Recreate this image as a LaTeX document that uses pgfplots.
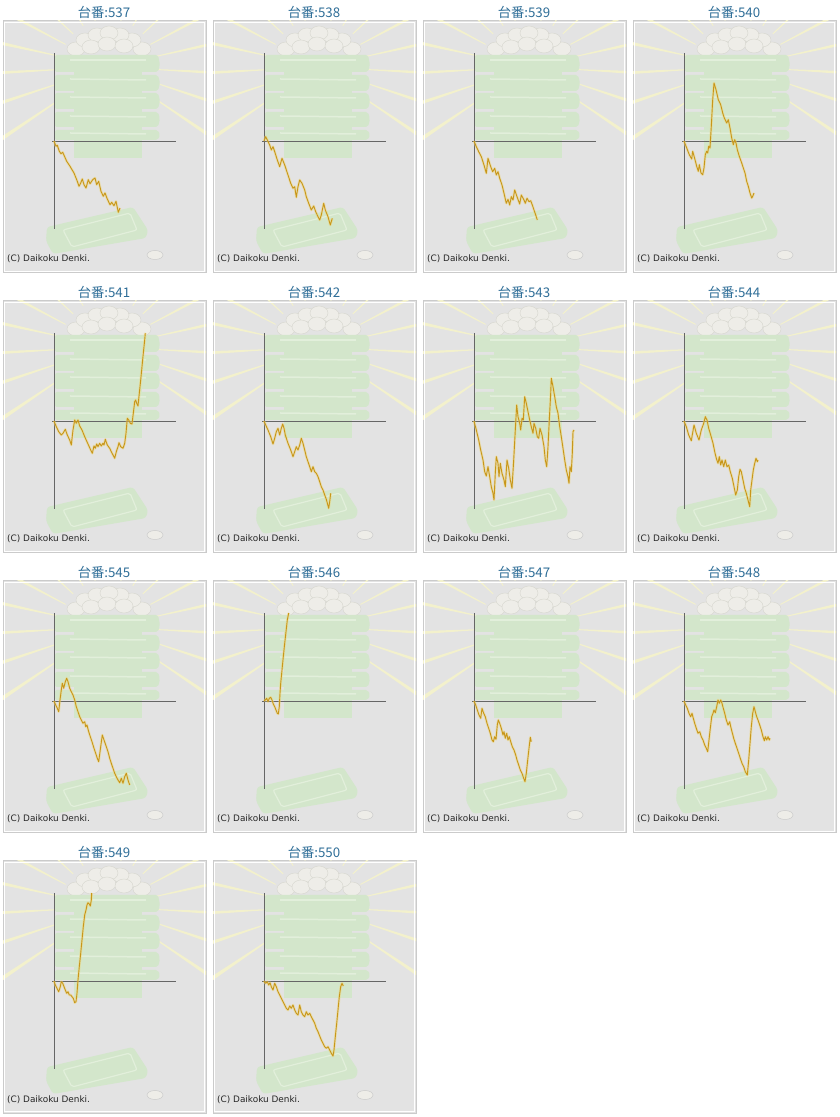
\documentclass[border=0pt]{standalone}
\usepackage{pgfplots}
\pgfplotsset{compat=1.18}
\usepackage{fontspec}
\newfontfamily\cjk{Noto Sans CJK JP}
\newfontfamily\dejavu{DejaVu Sans}
\definecolor{bggray}{HTML}{E3E3E3}
\definecolor{bordergray}{HTML}{CBCBCB}
\definecolor{raycol}{HTML}{F3F1CC}
\definecolor{traygreen}{HTML}{D3E6CB}
\definecolor{traylight}{HTML}{E2EFDB}
\definecolor{ricecol}{HTML}{EEEDE8}
\definecolor{riceedge}{HTML}{D6D6CE}
\definecolor{axcol}{HTML}{666666}
\definecolor{linecol}{HTML}{C8961A}
\definecolor{halocol}{HTML}{F0D670}
\definecolor{titlecol}{HTML}{2F6E98}

\newcommand{\deco}{%
  \begin{scope}
  \clip (rel axis cs:0,0) rectangle (rel axis cs:1,1);
  \begin{scope}[shift={(axis cs:54,74)}]
  \pgfplotsinvokeforeach{-34,-18.5,...,215}{%
    \fill[raycol] (##1-0.5:48pt) -- (##1-0.9:170pt) -- (##1+0.9:170pt) -- (##1+0.5:48pt) -- cycle;
  }
  \end{scope}
  % rice pile
  \filldraw[riceedge,fill=ricecol,line width=0.4pt] (axis cs:22,92) ellipse [x radius=9pt,y radius=7pt];
  \filldraw[riceedge,fill=ricecol,line width=0.4pt] (axis cs:88,92) ellipse [x radius=9pt,y radius=7pt];
  \filldraw[riceedge,fill=ricecol,line width=0.4pt] (axis cs:31,101) ellipse [x radius=9pt,y radius=7pt];
  \filldraw[riceedge,fill=ricecol,line width=0.4pt] (axis cs:78,101) ellipse [x radius=9pt,y radius=7pt];
  \filldraw[riceedge,fill=ricecol,line width=0.4pt] (axis cs:43,106) ellipse [x radius=9pt,y radius=7pt];
  \filldraw[riceedge,fill=ricecol,line width=0.4pt] (axis cs:66,106) ellipse [x radius=9pt,y radius=7pt];
  \filldraw[riceedge,fill=ricecol,line width=0.4pt] (axis cs:55,108) ellipse [x radius=9pt,y radius=7pt];
  \filldraw[riceedge,fill=ricecol,line width=0.4pt] (axis cs:37,94) ellipse [x radius=9pt,y radius=7pt];
  \filldraw[riceedge,fill=ricecol,line width=0.4pt] (axis cs:53,97) ellipse [x radius=9pt,y radius=7pt];
  \filldraw[riceedge,fill=ricecol,line width=0.4pt] (axis cs:70,95) ellipse [x radius=9pt,y radius=7pt];
  % tower body and base
  \fill[traygreen] (axis cs:20,86) rectangle (axis cs:88,-17);
  % trays
  \fill[traygreen,rounded corners=2pt] (axis cs:1,86) -- (axis cs:104,86) -- (axis cs:106,76) -- (axis cs:104,69) -- (axis cs:1,69) -- cycle;
  \fill[traygreen,rounded corners=2pt] (axis cs:1,66) -- (axis cs:104,66) -- (axis cs:106,58) -- (axis cs:104,50) -- (axis cs:1,50) -- cycle;
  \fill[traygreen,rounded corners=2pt] (axis cs:1,48) -- (axis cs:104,48) -- (axis cs:106,40) -- (axis cs:104,32) -- (axis cs:1,32) -- cycle;
  \fill[traygreen,rounded corners=2pt] (axis cs:1,29) -- (axis cs:104,29) -- (axis cs:106,22) -- (axis cs:104,14) -- (axis cs:1,14) -- cycle;
  \fill[traygreen,rounded corners=2pt] (axis cs:1,11) -- (axis cs:104,11) -- (axis cs:106,6) -- (axis cs:104,1) -- (axis cs:1,1) -- cycle;
  \draw[traylight,line width=1.5pt] (axis cs:16,81) -- (axis cs:92,81);
  \draw[traylight,line width=1.5pt] (axis cs:16,62) -- (axis cs:92,61);
  \draw[traylight,line width=1.5pt] (axis cs:16,44) -- (axis cs:92,43);
  \draw[traylight,line width=1.5pt] (axis cs:16,25) -- (axis cs:92,24);
  \draw[traylight,line width=1.5pt] (axis cs:16,8) -- (axis cs:92,7);
  % bottom tray
  \fill[traygreen,rounded corners=3pt] (axis cs:-7,-86) -- (axis cs:79,-66) -- (axis cs:94,-89) -- (axis cs:92,-97) -- (axis cs:-1,-113) -- (axis cs:-8,-100) -- cycle;
  \draw[traylight,line width=1.2pt,rounded corners=2pt] (axis cs:9,-89) -- (axis cs:76,-72) -- (axis cs:83,-89) -- (axis cs:18,-106) -- cycle;
  % coin
  \filldraw[bordergray,fill=ricecol,line width=0.5pt] (axis cs:101,-114) ellipse [x radius=8pt,y radius=4.5pt];
  \end{scope}
  \draw[white,line width=1pt] ([shift={(1.2pt,1.2pt)}]rel axis cs:0,0) rectangle ([shift={(-1.2pt,-1.2pt)}]rel axis cs:1,1);
  \draw[axcol,line width=0.9pt] (axis cs:0,88) -- (axis cs:0,-88);
  \draw[axcol,line width=0.9pt] (axis cs:-2,0) -- (axis cs:122,0);
}
\pgfplotsset{panel/.style={x=1pt,y=1pt,xmin=-51,xmax=152,ymin=-132,ymax=120,
  anchor=south west, xtick=\empty, ytick=\empty,
  axis line style={draw=bordergray,line width=1pt},
  axis background/.style={fill=bggray}},
  gold/.style={color=linecol,line width=0.9pt,mark=none,line join=round,
    preaction={draw=halocol,line width=2.6pt,opacity=0.45}}}

\begin{document}
\begin{tikzpicture}
\path[use as bounding box,fill=white] (0pt,0pt) rectangle (840pt,1117pt);

% titles
\foreach \lab/\cx/\cy in {537/0/0,538/1/0,539/2/0,540/3/0,541/0/1,542/1/1,543/2/1,544/3/1,545/0/2,546/1/2,547/2/2,548/3/2,549/0/3,550/1/3}{
  \node[text=titlecol,font=\cjk\fontsize{13.3}{15}\selectfont,inner sep=0pt] at ({104pt+210pt*\cx},{1105pt-280pt*\cy}) {台番:\lab};
}

% Row 1
\begin{axis}[panel,at={(3pt,844pt)}]
\deco
\addplot[gold] coordinates {(0,0)(2,-5.3)(3.3,-4.3)(5.3,-10.3)(7,-12.7)(8.7,-11.3)(12.7,-20.3)(16,-25.3)(20,-32)(23.3,-40.3)(25,-45.3)(26.7,-42)(28.3,-38)(30,-43.7)(32,-47)(34.3,-38.7)(36,-42.7)(38.7,-38.7)(41,-37)(42.7,-43.7)(44.7,-40.3)(47,-50.3)(49.3,-55.3)(51,-52)(53.3,-58)(56,-63.7)(57.7,-61.3)(60,-64.7)(62,-60.3)(64.3,-71.3)(66,-67)};
\end{axis}
\begin{axis}[panel,at={(213pt,844pt)}]
\deco
\addplot[gold] coordinates {(0,0)(1.7,4.3)(3.3,1)(5.7,-4)(7.3,-9)(9,-5.7)(10.7,-10.7)(13.3,-19)(15.7,-25.7)(18,-17.3)(20.7,-24)(24,-34)(26.7,-42.3)(29,-47.3)(30.7,-45.7)(32.3,-56.3)(34,-45.7)(35.7,-39)(38,-42.3)(40.7,-49)(42.3,-55.7)(44.7,-62.3)(47.3,-69)(49.7,-65)(51.7,-70.7)(54,-75.7)(55.7,-79)(57.3,-74)(59.7,-62.3)(61.3,-69)(64,-75.7)(66.3,-84)(68.3,-77.3)};
\end{axis}
\begin{axis}[panel,at={(423pt,844pt)}]
\deco
\addplot[gold] coordinates {(0,0)(2.3,-5.7)(4.7,-10.7)(7.3,-15.7)(10,-24)(12.3,-32.3)(14,-17.3)(16.7,-25.7)(18.7,-30.7)(20.7,-27.3)(22.3,-34)(24,-30.7)(25.7,-37.3)(28,-44)(30,-52.3)(32.3,-62.3)(34,-58.3)(35.7,-64)(37.3,-55.7)(39,-59)(40.7,-49)(43,-55.7)(45.7,-63)(47.3,-54)(50,-59)(51.3,-62.3)(53,-57.3)(55,-60.7)(56.7,-59.7)(58.3,-64)(60,-69)(61.7,-74)(63.3,-79)};
\end{axis}
\begin{axis}[panel,at={(633pt,844pt)}]
\deco
\addplot[gold] coordinates {(0,0)(2.7,-7)(5.3,-13.7)(7.7,-18)(8.7,-10.3)(11,-18.7)(12.7,-25.3)(14.3,-30.3)(15.3,-23.7)(17,-32)(18.7,-33.7)(20,-27)(21.3,-13.7)(22.7,-10.3)(23.7,-12)(24.7,-5.3)(26,-7)(27.3,14.7)(28.7,41.3)(30,58)(32,51.3)(34.3,41.3)(36.7,36.3)(38.7,28)(40.3,23)(42.7,18)(44.3,21.3)(46,13)(47.7,3)(49.3,-3.7)(50.7,1.3)(52,-2)(53.3,-8.7)(55.3,-15.3)(57.7,-22)(59.3,-27)(61,-32)(62.7,-40.3)(64.3,-45.3)(66,-52)(67.7,-57)(68.7,-55.3)(70,-52)};
\end{axis}

% Row 2
\begin{axis}[panel,at={(3pt,564pt)}]
\deco
\addplot[gold] coordinates {(0,0)(2.3,-5.7)(4.7,-10.7)(7.3,-14)(9,-12.3)(11.3,-8.3)(13.3,-14)(15.7,-19)(17.3,-24)(19,-9)(20.7,1)(22.3,-2.3)(24,1)(25.7,-5)(28,-9)(30.7,-15.7)(34,-23)(36.7,-29)(38.3,-32.3)(40,-25)(41.3,-27.3)(42.7,-23)(44,-25.7)(45.7,-22.3)(47.3,-25)(49,-22.3)(50,-24)(51.3,-18.3)(53.3,-24)(55.7,-27.3)(57.3,-30.7)(59,-34)(60.7,-37.3)(62.3,-30.7)(64,-25.7)(65,-21.7)(66.7,-25.7)(69,-27.3)(70.7,-22.3)(72,-12.3)(73.3,2.7)(74.7,1)(76.3,-2.3)(78,-3)(79.3,7.7)(80.7,19.3)(81.7,21)(82.7,17.7)(84,15)(85.3,27.7)(86.7,41)(88,54.3)(89.3,67.7)(90.7,81)(91.3,88)};
\end{axis}
\begin{axis}[panel,at={(213pt,564pt)}]
\deco
\addplot[gold] coordinates {(0,0)(1.7,-4)(4,-9)(6.7,-15.7)(9,-23)(10.7,-17.3)(12.3,-10.7)(14,-7.3)(15.7,-14)(17.3,-7.3)(18.7,-3)(20,-7.3)(21.3,-14)(24,-22.3)(26.7,-29)(29,-35.7)(30.7,-30.7)(32.3,-25.7)(34,-29)(35.7,-24)(37.3,-17.3)(39,-22.3)(40.7,-29)(42.3,-35.7)(44,-40.7)(45.7,-45.7)(47.3,-50.7)(49,-45.7)(50.7,-50.7)(52.3,-52.3)(54,-55.7)(55.7,-60.7)(57.3,-65.7)(59,-69)(60.7,-74)(62.3,-78.3)(64.7,-87.3)(65.7,-80.7)(66.7,-72.3)};
\end{axis}
\begin{axis}[panel,at={(423pt,564pt)}]
\deco
\addplot[gold] coordinates {(0,0)(2.3,-9)(4.7,-19)(6.7,-29)(9,-39)(10.7,-50.7)(12.3,-55)(14,-45.7)(15.7,-55.7)(17.3,-65.7)(19,-72.3)(20,-79)(21.3,-52.3)(22.3,-35.7)(24,-42.3)(25,-55.7)(26.3,-42.3)(28,-52.3)(30,-59)(31.3,-65.7)(33,-39)(34.7,-47.3)(36.3,-59)(38,-67.3)(39.7,-39)(41.3,-9)(42.7,16)(44,4.3)(45.7,-2.3)(46.7,-9)(48,2.7)(49.3,1)(50.7,24.3)(52.3,17.7)(54,9.3)(55.7,1)(57.3,-5.7)(59,-12.3)(60,-2.3)(61.7,-7.3)(63.3,-15.7)(64.7,-17.3)(66,-7.3)(68,-14)(70,-25.7)(71.3,-39)(72.7,-45.7)(74,-25.7)(75.3,1)(76.7,27.7)(77.3,42.7)(79,34.3)(80.7,24.3)(82.3,14.3)(84,7.7)(85.7,-5.7)(87.3,-15.7)(89,-27.3)(90.7,-39)(92.3,-49)(94,-55.7)(95,-62.3)(96,-45.7)(97.3,-50.7)(98.3,-32.3)(99,-10.7)(100,-9)};
\end{axis}
\begin{axis}[panel,at={(633pt,564pt)}]
\deco
\addplot[gold] coordinates {(0,0)(2.3,-5.7)(4.7,-14)(7.3,-19.7)(10,-4)(12.3,-12.3)(15,-19)(17.3,-9)(19.7,-2.3)(21.3,4.3)(23,1)(24.7,-7.3)(26.7,-14)(29,-22.3)(30.7,-30.7)(32.3,-37.3)(34,-42.3)(35.3,-35.7)(36.7,-44)(38,-39)(39.7,-45.7)(41.3,-39)(43,-45.7)(44.7,-44)(46.3,-50.7)(48.3,-57.3)(50,-65.7)(51.7,-74)(53.3,-69)(54.7,-55.7)(56,-48.3)(57.3,-50.7)(59,-59)(60.7,-67.3)(62.3,-72.3)(64,-79)(65.7,-85.7)(66.7,-69)(68,-59)(69.3,-49)(70.7,-42.3)(72,-37.3)(73.3,-40.7)(74,-39)};
\end{axis}

% Row 3
\begin{axis}[panel,at={(3pt,284pt)}]
\deco
\addplot[gold] coordinates {(0,0)(1.7,-4)(3.3,-7.3)(4.7,-10.7)(6,1)(7.3,11)(8.3,17.7)(9.7,12.7)(11.3,19.3)(12.7,22.7)(14,19.3)(15.7,12.7)(17.3,9.3)(19,6)(20.7,1)(22.3,-5.7)(24,-10.7)(25.7,-15.7)(27.3,-19)(29,-22.3)(30.7,-20.7)(31.7,-25.7)(33,-24)(34.7,-30.7)(36.3,-35.7)(38,-40.7)(40,-47.3)(41.7,-52.3)(43.3,-57.3)(44.7,-60.7)(46.7,-45.7)(48.3,-34)(50,-39)(52.3,-45.7)(54,-50.7)(55.7,-57.3)(57.3,-62.3)(59,-67.3)(60.7,-72.3)(62.3,-75.7)(64,-79)(65.7,-81.7)(67.3,-77.3)(69,-82.3)(70.7,-75.7)(72.3,-72.3)(74,-79)(75.7,-84)};
\end{axis}
\begin{axis}[panel,at={(213pt,284pt)}]
\deco
\addplot[gold] coordinates {(0,0)(1.3,1)(2.7,2.7)(4,-0.7)(5.3,2.7)(6.7,3.7)(8,1)(9.3,-3)(10.7,-5.7)(12,-9)(13.3,-12.3)(14.3,-13)(15.3,-5.7)(16,7.7)(16.7,17.7)(18,31)(19.3,44.3)(20.7,57.7)(22,69.3)(23.3,81)(24.7,88)};
\end{axis}
\begin{axis}[panel,at={(423pt,284pt)}]
\deco
\addplot[gold] coordinates {(0,0)(1.7,-4)(3.3,-9)(5,-14)(6.7,-17.3)(8,-7.3)(9.7,-12.3)(11.3,-15.7)(13,-22.3)(14.7,-27.3)(16.3,-32.3)(18,-39)(19.3,-40.7)(20.7,-35.7)(22,-38.3)(23.3,-24)(24.3,-19)(25.7,-22.3)(27.3,-27.3)(29,-34)(30,-30.7)(31.3,-37.3)(32.7,-32.3)(34,-39)(35.3,-35.7)(36.7,-40.7)(38.3,-45.7)(40,-49)(41.7,-54)(43,-59)(44.7,-64)(46.3,-69)(48,-72.3)(49.7,-77.3)(51,-80.7)(52.3,-72.3)(53.7,-59)(55,-47.3)(56.3,-36.3)(57.3,-40.7)};
\end{axis}
\begin{axis}[panel,at={(633pt,284pt)}]
\deco
\addplot[gold] coordinates {(0,0)(1.7,-4)(3.3,-7.3)(5,-12.3)(6.7,-15.7)(8,-12.3)(9.3,-17.3)(10.7,-22.3)(12.3,-27.3)(14,-32.3)(15.7,-30.7)(17.3,-35.7)(19,-39)(20.7,-44)(22.3,-47.3)(23.7,-50.7)(25,-39)(26.3,-27.3)(27.7,-15.7)(29,-12.3)(30,-9)(31.3,-11.7)(32.7,-5.7)(34,1)(35.3,-2.3)(36.7,1)(38,-2.3)(39.3,-7.3)(40.7,-12.3)(42.3,-19)(44,-24)(45.7,-20.7)(46.7,-25.7)(48,-30.7)(49.7,-37.3)(51.3,-42.3)(53,-47.3)(54.7,-52.3)(56.3,-57.3)(58,-62.3)(59.7,-65.7)(61.3,-70.7)(63.3,-74)(64.7,-59)(66,-42.3)(67.3,-25.7)(68.7,-12.3)(70,-5.7)(71.3,-10.7)(72.7,-15.7)(74,-19)(75.7,-24)(77.3,-29)(79,-35.7)(80.3,-39.7)(81.3,-35.7)(82.7,-39)(84,-35.7)(85.3,-39)(86,-37.3)};
\end{axis}

% Row 4
\begin{axis}[panel,at={(3pt,4pt)}]
\deco
\addplot[gold] coordinates {(0,0)(1.3,-4)(3,-7.3)(4.7,-10.7)(6.3,-5.7)(7.3,-0.7)(8.7,-2.3)(10,-5.7)(11.3,-9)(12.7,-12.3)(14,-10.7)(15.3,-14)(16.7,-14)(18,-15.7)(19.3,-17.3)(20.7,-21.7)(22,-20.7)(23,-12.3)(24,1)(25.3,14.3)(26.7,27.7)(28,41)(29.3,54.3)(30.7,66)(32,71)(33,76)(34,78.3)(35.3,77)(36.3,75)(37.3,81)(37.7,88)};
\end{axis}
\begin{axis}[panel,at={(213pt,4pt)}]
\deco
\addplot[gold] coordinates {(0,0)(1.7,-2.3)(3.3,-0.7)(4.7,-4)(6,-1.7)(7.3,-5.7)(9,-9)(10.7,-2.3)(12.3,-5.7)(14,-10.7)(15.7,-14)(17.3,-17.3)(19,-20.7)(20.7,-24)(22.3,-27.3)(24,-29)(25.7,-25)(27.3,-27.3)(29,-24)(30.7,-29)(32.3,-32.3)(34,-34)(35.7,-24)(37.3,-30.7)(39,-34)(40.7,-35.7)(42.3,-30.7)(44,-34)(45.7,-32.3)(47.3,-35.7)(49,-39)(50.7,-42.3)(52.3,-47.3)(54,-50.7)(55.7,-55)(57.3,-59)(59,-62.3)(60.7,-65.7)(62.3,-67.3)(64,-65.7)(65.7,-69)(67.3,-72.3)(69,-75)(70,-69)(71.3,-55.7)(72.7,-42.3)(74,-29)(75.3,-15.7)(76.7,-5.7)(78,-2.3)(79.3,-5)};
\end{axis}

\foreach \cx/\cy in {0/0,1/0,2/0,3/0,0/1,1/1,2/1,3/1,0/2,1/2,2/2,3/2,0/3,1/3}{
  \node[anchor=base west,inner sep=0pt,font=\dejavu\fontsize{8.9}{10}\selectfont,text=black!85] at ({7pt+210pt*\cx},{855pt-280pt*\cy}) {(C) Daikoku Denki.};
}
\end{tikzpicture}
\end{document}
